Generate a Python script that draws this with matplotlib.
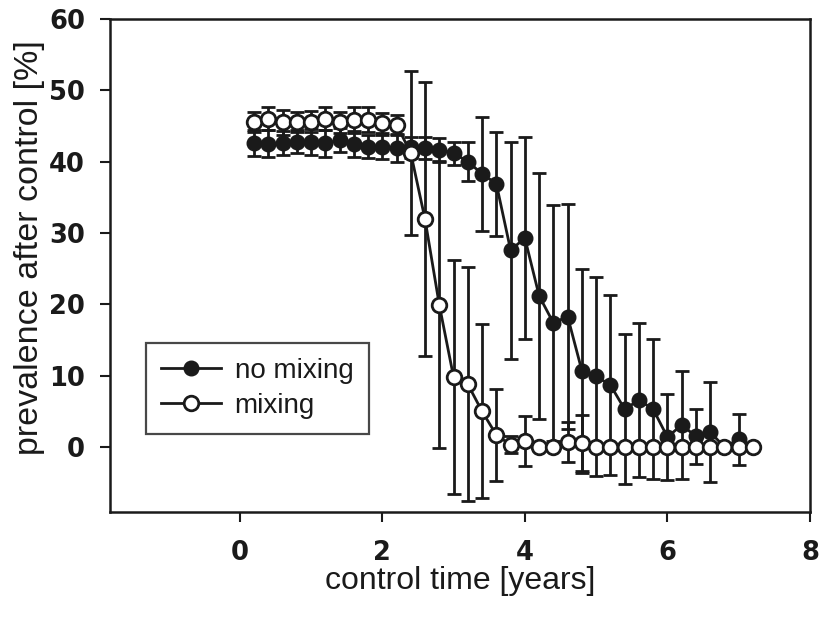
import matplotlib
matplotlib.use("Agg")
import matplotlib.pyplot as plt
import numpy as np

plt.rcParams['font.family'] = ['Liberation Sans', 'DejaVu Sans']

# control time [years]
control_time = [0.2, 0.4, 0.6, 0.8, 1.0, 1.2, 1.4, 1.6, 1.8, 2.0, 2.2, 2.4,
                2.6, 2.8, 3.0, 3.2, 3.4, 3.6, 3.8, 4.0, 4.2, 4.4, 4.6, 4.8,
                5.0, 5.2, 5.4, 5.6, 5.8, 6.0, 6.2, 6.4, 6.6, 6.8, 7.0, 7.2]

no_mixing = [42.6, 42.5, 42.6, 42.8, 42.8, 42.6, 43.0, 42.5, 42.1, 42.1, 41.9, 42.0,
             41.9, 41.7, 41.2, 40.0, 38.3, 36.9, 27.6, 29.3, 21.2, 17.4, 18.3, 10.7,
             9.9, 8.7, 5.3, 6.6, 5.3, 1.4, 3.1, 1.5, 2.1, 0.0, 1.1, 0.0]
no_mixing_err = [1.8, 1.9, 1.7, 1.6, 1.8, 1.9, 1.7, 1.8, 1.6, 1.7, 2.0, 1.5,
                 1.5, 1.6, 1.6, 2.7, 8.0, 7.3, 15.2, 14.1, 17.2, 16.5, 15.8, 14.3,
                 13.9, 12.6, 10.5, 10.8, 9.8, 6.0, 7.6, 3.9, 7.0, 0.0, 3.6, 0.0]

mixing = [45.5, 46.0, 45.5, 45.5, 45.6, 46.0, 45.5, 45.8, 45.9, 45.4, 45.2, 41.2,
          31.9, 19.9, 9.8, 8.8, 5.0, 1.7, 0.3, 0.9, 0.0, 0.0, 0.75, 0.6,
          0.0, 0.0, 0.0, 0.0, 0.0, 0.0, 0.0, 0.0, 0.0, 0.0, 0.0, 0.0]
mixing_err = [1.4, 1.6, 1.8, 1.4, 1.5, 1.6, 1.5, 1.8, 1.7, 1.4, 1.4, 11.5,
              19.2, 20.0, 16.4, 16.4, 12.2, 6.5, 1.2, 3.5, 0.0, 0.0, 2.8, 3.9,
              0.0, 0.0, 0.0, 0.0, 0.0, 0.0, 0.0, 0.0, 0.0, 0.0, 0.0, 0.0]

x_ticks = [0, 2, 4, 6, 8]
y_ticks = [0, 10, 20, 30, 40, 50, 60]

fig = plt.figure(figsize=(8.19, 6.19), dpi=100)
ax = fig.add_axes([110/819, 107/619, 700/819, 493/619])

col = '#1a1a1a'
ms = 10.5
elw = 2.0
cs = 4.8

ax.errorbar(control_time, no_mixing, yerr=no_mixing_err, fmt='none',
            ecolor=col, elinewidth=elw, capsize=cs, capthick=elw, zorder=2)
ax.plot(control_time, no_mixing, '-o', color=col, lw=2.0, ms=ms,
        mfc=col, mec=col, label='no mixing', zorder=3)
ax.errorbar(control_time, mixing, yerr=mixing_err, fmt='none',
            ecolor=col, elinewidth=elw, capsize=cs, capthick=elw, zorder=4)
ax.plot(control_time, mixing, '-o', color=col, lw=2.0, ms=ms,
        mfc='white', mec=col, mew=2.0, label='mixing', zorder=5)

ax.set_xlim(-1.82, 8)
ax.set_ylim(-9.1, 60)
ax.set_xticks(x_ticks)
ax.set_yticks(y_ticks)
tick_font = dict(family='DejaVu Sans', size=18.5, weight='bold')
ax.set_xticklabels([str(v) for v in x_ticks], fontdict=tick_font)
ax.set_yticklabels([str(v) for v in y_ticks], fontdict=tick_font)
ax.tick_params(axis='both', direction='out', length=7, width=1.5, colors=col,
               labelcolor=col, top=False, right=False)
ax.tick_params(axis='x', pad=13)
ax.tick_params(axis='y', pad=11)
for s in ax.spines.values():
    s.set_linewidth(1.8)
    s.set_color(col)

ax.set_xlabel('control time [years]', fontsize=23, color=col, labelpad=0)
ax.set_ylabel('prevalence after control [%]', fontsize=24.5, color=col, labelpad=3)
ax.yaxis.label.set_y(0.537)

leg = ax.legend(loc='upper left', bbox_to_anchor=(0.051, 0.343), fontsize=20,
                frameon=True, fancybox=False, handlelength=2.15,
                borderpad=0.55, labelspacing=0.3, handletextpad=0.5,
                borderaxespad=0.0)
leg.get_frame().set_edgecolor(col)
leg.get_frame().set_linewidth(1.6)
for t in leg.get_texts():
    t.set_color(col)

fig.savefig('out.png', dpi=100)
